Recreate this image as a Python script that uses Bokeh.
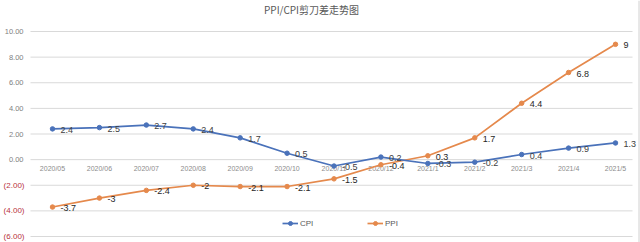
from bokeh.plotting import figure
from bokeh.models import Range1d, ColumnDataSource, Legend, LegendItem
from bokeh.core.properties import value
from bokeh.embed import file_html
from bokeh.resources import INLINE

months = ["2020/05", "2020/06", "2020/07", "2020/08", "2020/09", "2020/10", "2020/11",
          "2020/12", "2021/1", "2021/2", "2021/3", "2021/4", "2021/5"]
cpi = [2.4, 2.5, 2.7, 2.4, 1.7, 0.5, -0.5, 0.2, -0.3, -0.2, 0.4, 0.9, 1.3]
ppi = [-3.7, -3, -2.4, -2, -2.1, -2.1, -1.5, -0.4, 0.3, 1.7, 4.4, 6.8, 9]
y_ticks = [-6, -4, -2, 0, 2, 4, 6, 8, 10]
title_text = "PPI/CPI剪刀差走势图"

CPI_COLOR = "#4A72BA"
PPI_COLOR = "#E5894C"
FONT = "Liberation Sans"

# ---- layout (pixels) ----
W, H = 640, 242
FIRST_PX, LAST_PX = 52, 615          # x pixel of first / last category
TOP_PX, BOTTOM_PX = 31, 236          # y pixel of top / bottom gridline
GRID_LEFT_PX, GRID_RIGHT_PX = 30, 632
BORDER_PX = 638.5

idx = list(range(len(months)))
n = len(months)
xs = (LAST_PX - FIRST_PX) / (n - 1)                       # px per category
ymin, ymax = min(y_ticks), max(y_ticks)
ys = (BOTTOM_PX - TOP_PX) / (ymax - ymin)                 # px per y unit

def px2x(px):
    return (px - FIRST_PX) / xs

def px2y(py):
    return ymax - (py - TOP_PX) / ys

p = figure(width=W, height=H, output_backend="svg", toolbar_location=None,
           x_range=Range1d(px2x(0), px2x(W)), y_range=Range1d(px2y(H), px2y(0)),
           min_border=0)
p.outline_line_color = None
p.xaxis.visible = False
p.yaxis.visible = False
p.grid.visible = False

# horizontal gridlines
p.segment(x0=[px2x(GRID_LEFT_PX)] * len(y_ticks), x1=[px2x(GRID_RIGHT_PX)] * len(y_ticks),
          y0=y_ticks, y1=y_ticks, line_color="#d9d9d9", line_width=1)
# chart area right border
p.segment(x0=[px2x(BORDER_PX)], x1=[px2x(BORDER_PX)], y0=[px2y(0)], y1=[px2y(H)],
          line_color="#d0d0d0", line_width=1)

# title
p.text(x=[px2x(311)], y=[px2y(9)], text=[title_text], text_align="center",
       text_baseline="middle", text_font=value("Noto Sans CJK SC"), text_font_size="10px",
       text_color="#595959")

# y tick labels: positive gray, negative red in parentheses
pos = [v for v in y_ticks if v >= 0]
neg = [v for v in y_ticks if v < 0]
p.text(x=[px2x(GRID_LEFT_PX)] * len(pos), y=pos, text=["{:.2f}".format(v) for v in pos],
       x_offset=-7, text_align="right", text_baseline="middle", text_font=value(FONT),
       text_font_size="7.5px", text_color="#808080")
p.text(x=[px2x(GRID_LEFT_PX)] * len(neg), y=neg, text=["({:.2f})".format(abs(v)) for v in neg],
       x_offset=-6, text_align="right", text_baseline="middle", text_font=value(FONT),
       text_font_size="8px", text_color="#b8333d")

# category labels inside plot along the zero line
src_cat = ColumnDataSource(dict(x=idx, y=[0] * n, t=months))
p.text(x="x", y="y", text="t", source=src_cat, text_align="center", text_baseline="middle",
       y_offset=9, text_font_size="7px", text_color="#8c8c8c", text_font=value(FONT))

src = ColumnDataSource(dict(x=idx, cpi=cpi, ppi=ppi,
                            cpi_t=[("%g" % v) for v in cpi], ppi_t=[("%g" % v) for v in ppi]))

l_ppi = p.line("x", "ppi", source=src, line_color=PPI_COLOR, line_width=1.7)
s_ppi = p.scatter("x", "ppi", source=src, size=4.5, marker="circle", fill_color=PPI_COLOR, line_color=PPI_COLOR)
l_cpi = p.line("x", "cpi", source=src, line_color=CPI_COLOR, line_width=1.7)
s_cpi = p.scatter("x", "cpi", source=src, size=4.5, marker="circle", fill_color=CPI_COLOR, line_color=CPI_COLOR)

p.text(x="x", y="cpi", text="cpi_t", source=src, x_offset=8, y_offset=1, text_align="left",
       text_baseline="middle", text_font_size="9px", text_color="#404040", text_font=value(FONT))
p.text(x="x", y="ppi", text="ppi_t", source=src, x_offset=8, y_offset=1, text_align="left",
       text_baseline="middle", text_font_size="9px", text_color="#262626", text_font=value(FONT))

legend = Legend(items=[LegendItem(label="CPI", renderers=[l_cpi, s_cpi]),
                       LegendItem(label="PPI", renderers=[l_ppi, s_ppi])],
                orientation="horizontal", location=(282, 14), padding=0, margin=0,
                spacing=47, glyph_width=16, glyph_height=10, label_height=10,
                label_standoff=2, label_text_font_size="8px", label_text_color="#595959",
                label_text_font=FONT, background_fill_alpha=0, border_line_color=None)
p.add_layout(legend, "center")

open("out.html", "w").write(file_html(p, INLINE))
